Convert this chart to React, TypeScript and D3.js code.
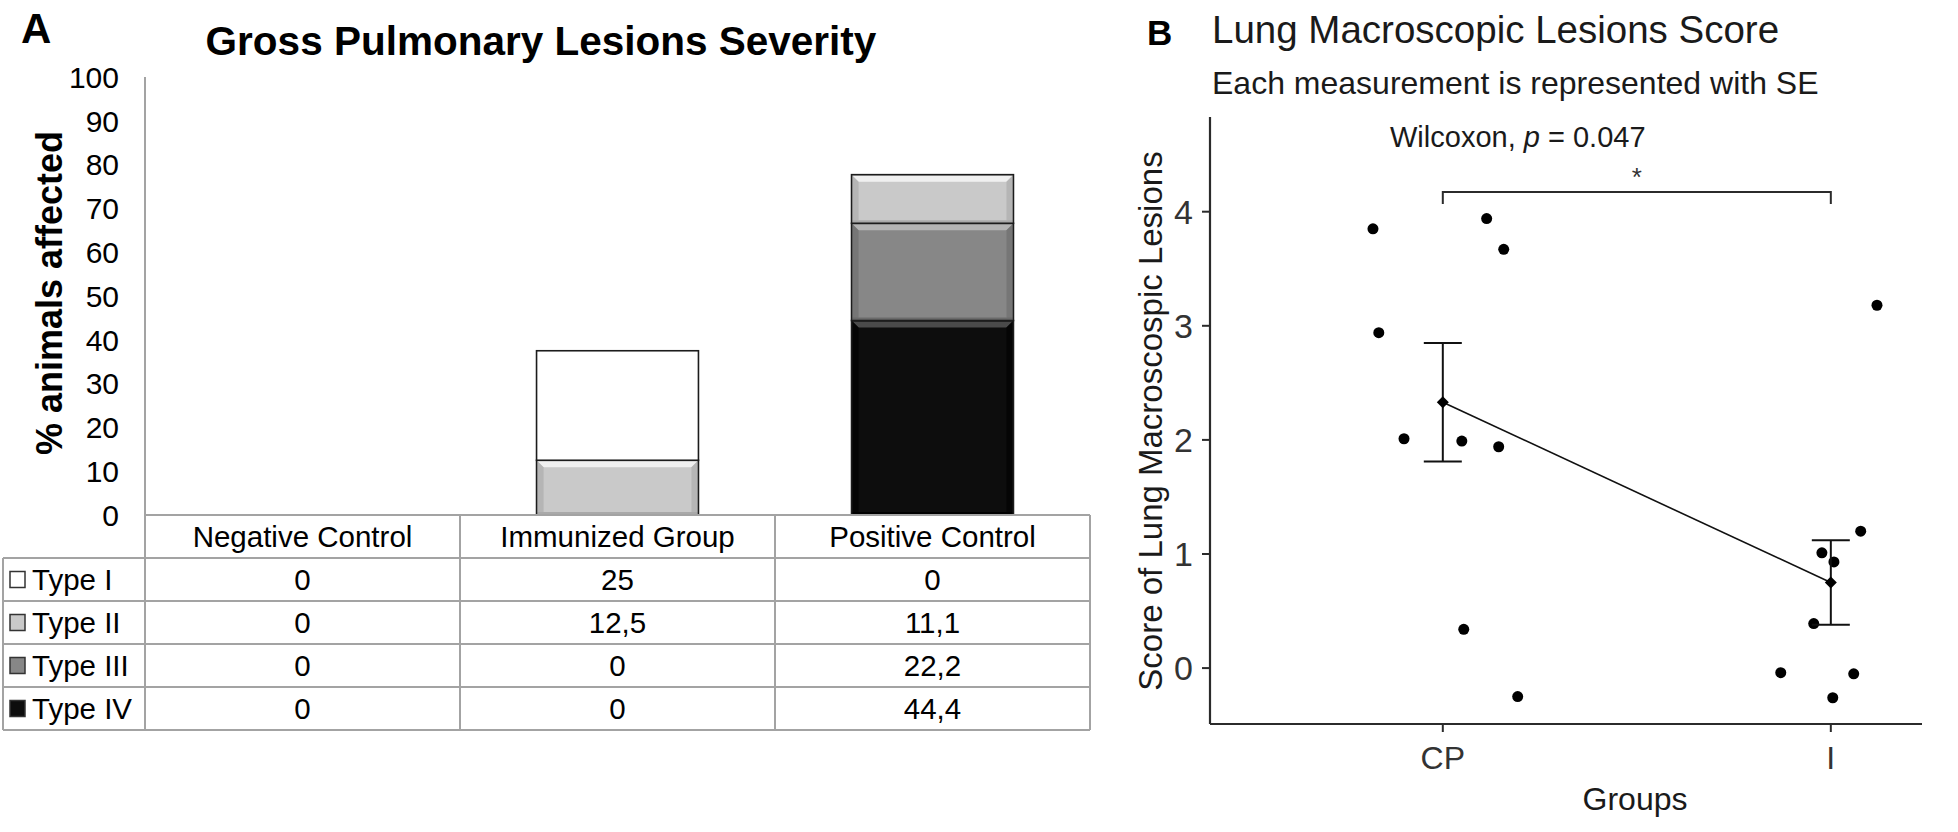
import React from 'react';
import * as d3 from 'd3';

// Panel A: gross pulmonary lesions (% animals affected)
const groups = ['Negative Control', 'Immunized Group', 'Positive Control'];
const lesionTypes = ['Type I', 'Type II', 'Type III', 'Type IV'];
const typeI = [0, 25, 0];
const typeII = [0, 12.5, 11.1];
const typeIII = [0, 0, 22.2];
const typeIV = [0, 0, 44.4];
const percentTicks = [0, 10, 20, 30, 40, 50, 60, 70, 80, 90, 100];

// Panel B: lung macroscopic lesions score
const scoreGroups = ['CP', 'I'];
const cpScores = [3.85, 2.94, 3.94, 3.67, 2.01, 1.99, 1.94, 0.34, -0.25];
const cpJitter = [-0.18, -0.165, 0.113, 0.157, -0.1, 0.049, 0.144, 0.054, 0.193];
const iScores = [3.18, 1.2, 1.01, 0.93, 0.39, -0.04, -0.05, -0.26];
const iJitter = [0.119, 0.077, -0.023, 0.008, -0.044, -0.129, 0.059, 0.005];
const groupMeans = [2.33, 0.75];
const groupSE = [0.52, 0.37];
const scoreTicks = [0, 1, 2, 3, 4];

const typeFill: Record<string, string> = {
  'Type I': '#ffffff',
  'Type II': '#c9c9c9',
  'Type III': '#878787',
  'Type IV': '#0d0d0d',
};
const typeLight: Record<string, string> = {
  'Type I': '#ffffff',
  'Type II': '#f0f0f0',
  'Type III': '#b4b4b4',
  'Type IV': '#4a4a4a',
};
const typeDark: Record<string, string> = {
  'Type I': '#ffffff',
  'Type II': '#a9a9a9',
  'Type III': '#6a6a6a',
  'Type IV': '#000000',
};

const FONT = '"Liberation Sans", Arial, sans-serif';

const fmt = (v: number) => String(v).replace('.', ',');

function PanelA() {
  const x = d3.scaleBand<string>().domain(groups).range([145, 1090]).paddingInner(0.486).paddingOuter(0.243);
  const y = d3.scaleLinear().domain([0, 100]).range([515, 77]);

  const rows = groups.map((g, i) => ({
    group: g,
    'Type I': typeI[i],
    'Type II': typeII[i],
    'Type III': typeIII[i],
    'Type IV': typeIV[i],
  }));
  const series = d3.stack<any>().keys(['Type IV', 'Type III', 'Type II', 'Type I'])(rows);
  const valuesByType: Record<string, number[]> = {
    'Type I': typeI,
    'Type II': typeII,
    'Type III': typeIII,
    'Type IV': typeIV,
  };

  const step = x.step();
  const colEdges = groups.map((_, i) => 145 + i * step).concat([145 + groups.length * step]);
  const rowH = 43;
  const tableTop = y(0);
  const gridColor = '#a3a3a3';

  return (
    <g fontFamily={FONT}>
      <text x={21} y={43} fontSize={42} fontWeight="bold">A</text>
      <text x={541} y={55} fontSize={40.5} fontWeight="bold" textAnchor="middle">Gross Pulmonary Lesions Severity</text>

      {/* y axis */}
      <line x1={145} x2={145} y1={y(100)} y2={y(0)} stroke={gridColor} strokeWidth={2} />
      {percentTicks.map(t => (
        <text key={t} x={119} y={y(t)} dy="0.36em" fontSize={30} textAnchor="end">{t}</text>
      ))}
      <text transform={`translate(62,293) rotate(-90)`} fontSize={36} fontWeight="bold" textAnchor="middle">% animals affected</text>

      {/* stacked bars */}
      {series.map(s => (
        <g key={s.key}>
          {s.map((d, i) => {
            if (d[1] - d[0] <= 0) return null;
            const bx = x(groups[i]) as number;
            const bw = x.bandwidth();
            const top = y(d[1]);
            const bot = y(d[0]);
            const h = bot - top;
            const bv = Math.min(7, h / 3);
            return (
              <g key={i}>
                <rect x={bx} y={top} width={bw} height={h} fill={typeFill[s.key]} />
                {s.key !== 'Type I' && (
                  <>
                    <polygon points={`${bx + 1},${top + 1} ${bx + bw - 1},${top + 1} ${bx + bw - bv},${top + bv} ${bx + bv},${top + bv}`} fill={typeLight[s.key]} />
                    <polygon points={`${bx + 1},${top + 1} ${bx + bv},${top + bv} ${bx + bv},${bot - 3} ${bx + 1},${bot - 1}`} fill={typeDark[s.key]} opacity={0.6} />
                    <polygon points={`${bx + bw - 1},${top + 1} ${bx + bw - bv},${top + bv} ${bx + bw - bv},${bot - 3} ${bx + bw - 1},${bot - 1}`} fill={typeDark[s.key]} opacity={0.6} />
                    <rect x={bx + 1} y={bot - 3} width={bw - 2} height={3} fill={typeDark[s.key]} />
                  </>
                )}
                <rect x={bx} y={top} width={bw} height={h} fill="none" stroke="#1c1c1c" strokeWidth={1.6} />
              </g>
            );
          })}
        </g>
      ))}

      {/* data table */}
      <g stroke={gridColor} strokeWidth={2}>
        <line x1={145} x2={colEdges[colEdges.length - 1]} y1={tableTop} y2={tableTop} />
        {d3.range(lesionTypes.length + 1).map(k => (
          <line key={k} x1={3} x2={colEdges[colEdges.length - 1]} y1={tableTop + rowH * (k + 1)} y2={tableTop + rowH * (k + 1)} />
        ))}
        <line x1={3} x2={3} y1={tableTop + rowH} y2={tableTop + rowH * (lesionTypes.length + 1)} />
        {colEdges.map((cx, k) => (
          <line key={k} x1={cx} x2={cx} y1={tableTop} y2={tableTop + rowH * (lesionTypes.length + 1)} />
        ))}
      </g>
      {groups.map((g, i) => (
        <text key={g} x={colEdges[i] + step / 2} y={tableTop + rowH / 2} dy="0.36em" fontSize={29.5} textAnchor="middle">{g}</text>
      ))}
      {lesionTypes.map((t, k) => {
        const cy = tableTop + rowH * (k + 1) + rowH / 2;
        return (
          <g key={t}>
            <rect x={10} y={cy - 8} width={15} height={16} fill={typeFill[t]} stroke="#333" strokeWidth={1.5} />
            <text x={32} y={cy} dy="0.36em" fontSize={29.5}>{t}</text>
            {valuesByType[t].map((v, i) => (
              <text key={i} x={colEdges[i] + step / 2} y={cy} dy="0.36em" fontSize={29.5} textAnchor="middle">{fmt(v)}</text>
            ))}
          </g>
        );
      })}
    </g>
  );
}

function PanelB() {
  const x = d3.scaleLinear().domain([0.4, 2.235]).range([1210, 1922]);
  const y = d3.scaleLinear().domain([-0.49, 4.83]).range([724, 117]);
  const axisColor = '#2b2b2b';
  const points = [
    ...cpScores.map((v, i) => ({ gx: 1 + cpJitter[i], v })),
    ...iScores.map((v, i) => ({ gx: 2 + iJitter[i], v })),
  ];
  const meanLine = d3.line<number>().x((_, i) => x(i + 1)).y(d => y(d));
  const bracketY = 192;

  return (
    <g fontFamily={FONT}>
      <text x={1147} y={45} fontSize={35} fontWeight="bold">B</text>
      <text x={1212} y={43} fontSize={38.5} fill="#1a1a1a">Lung Macroscopic Lesions Score</text>
      <text x={1212} y={94} fontSize={32} fill="#1a1a1a">Each measurement is represented with SE</text>

      {/* axes */}
      <line x1={1210} x2={1210} y1={y(4.83)} y2={y(-0.49)} stroke={axisColor} strokeWidth={2.2} />
      <line x1={1210} x2={1922} y1={y(-0.49)} y2={y(-0.49)} stroke={axisColor} strokeWidth={2.2} />
      {scoreTicks.map(t => (
        <g key={t}>
          <line x1={1202} x2={1210} y1={y(t)} y2={y(t)} stroke={axisColor} strokeWidth={2} />
          <text x={1193} y={y(t)} dy="0.36em" fontSize={34} textAnchor="end" fill="#333">{t}</text>
        </g>
      ))}
      {scoreGroups.map((g, i) => (
        <g key={g}>
          <line x1={x(i + 1)} x2={x(i + 1)} y1={724} y2={732} stroke={axisColor} strokeWidth={2} />
          <text x={x(i + 1)} y={769} fontSize={32} textAnchor="middle" fill="#333">{g}</text>
        </g>
      ))}
      <text x={1635} y={810} fontSize={32} textAnchor="middle" fill="#1a1a1a">Groups</text>
      <text transform="translate(1162,421) rotate(-90)" fontSize={33} textAnchor="middle" fill="#1a1a1a">Score of Lung Macroscospic Lesions</text>

      {/* significance bracket */}
      <path d={`M${x(1)},${bracketY + 12}V${bracketY}H${x(2)}V${bracketY + 12}`} fill="none" stroke={axisColor} strokeWidth={2} />
      <text x={(x(1) + x(2)) / 2} y={186} fontSize={26} textAnchor="middle" fill="#333">*</text>
      <text x={1390} y={147} fontSize={29} fill="#1a1a1a">
        Wilcoxon, <tspan fontStyle="italic">p</tspan> = 0.047
      </text>

      {/* jittered points */}
      {points.map((p, i) => (
        <circle key={i} cx={x(p.gx)} cy={y(p.v)} r={5.5} fill="#000" />
      ))}

      {/* mean line, error bars, means */}
      <path d={meanLine(groupMeans) || ''} fill="none" stroke="#111" strokeWidth={1.6} />
      {groupMeans.map((m, i) => {
        const cx = x(i + 1);
        const hi = y(m + groupSE[i]);
        const lo = y(m - groupSE[i]);
        const cy = y(m);
        return (
          <g key={i} stroke="#111" strokeWidth={2}>
            <line x1={cx} x2={cx} y1={hi} y2={lo} />
            <line x1={cx - 19} x2={cx + 19} y1={hi} y2={hi} />
            <line x1={cx - 19} x2={cx + 19} y1={lo} y2={lo} />
            <path d={`M${cx},${cy - 6}L${cx + 6},${cy}L${cx},${cy + 6}L${cx - 6},${cy}Z`} fill="#000" stroke="none" />
          </g>
        );
      })}
    </g>
  );
}

export default function App() {
  return (
    <div style={{ position: 'absolute', left: 0, top: 0 }}>
      <svg width={1958} height={832} viewBox="0 0 1958 832" style={{ display: 'block', background: '#fff' }}>
        <rect width={1958} height={832} fill="#fff" />
        <PanelA />
        <PanelB />
      </svg>
    </div>
  );
}
